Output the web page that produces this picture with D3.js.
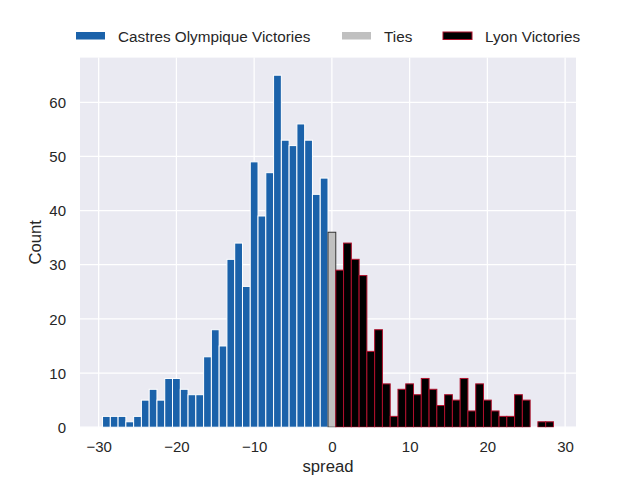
<!DOCTYPE html>
<html>
<head>
<meta charset="utf-8">
<script src="https://cdn.jsdelivr.net/npm/d3@7"></script>
<style>
  html, body { margin: 0; padding: 0; background: #ffffff; }
  svg { display: block; }
  text { font-family: "Liberation Sans", Arial, sans-serif; fill: #262626; }
</style>
</head>
<body>
<svg id="chart" width="640" height="480"></svg>
<script>
// ---- data ----
const castresSpreads = [-29,-28,-27,-26,-25,-24,-23,-22,-21,-20,-19,-18,-17,-16,-15,-14,-13,-12,-11,-10,-9,-8,-7,-6,-5,-4,-3,-2,-1];
const castresCounts  = [2,2,2,1,2,5,7,5,9,9,7,6,6,13,18,15,31,34,26,49,39,47,65,53,52,56,53,43,46];
const tieSpreads = [0];
const tieCounts  = [36];
const lyonSpreads = [1,2,3,4,5,6,7,8,9,10,11,12,13,14,15,16,17,18,19,20,21,22,23,24,25,26,27,28];
const lyonCounts  = [29,34,31,28,14,18,8,2,7,8,6,9,7,4,6,5,9,3,8,5,3,2,2,6,5,0,1,1];
const xTicks = [-30,-20,-10,0,10,20,30];
const yTicks = [0,10,20,30,40,50,60];
const seriesNames = ["Castres Olympique Victories", "Ties", "Lyon Victories"];

// ---- layout ----
const plotL = 80, plotR = 576, plotT = 57.6, plotB = 427.2;
const svg = d3.select("#chart");

const binW = 1;
const allSpreads = castresSpreads.concat(tieSpreads, lyonSpreads);
const allCounts = castresCounts.concat(tieCounts, lyonCounts);
const xmin = d3.min(allSpreads) - binW / 2, xmax = d3.max(allSpreads) + binW / 2;
const xm = (xmax - xmin) * 0.05;
const x = d3.scaleLinear().domain([xmin - xm, xmax + xm]).range([plotL, plotR]);
const ymax = d3.max(allCounts) * 1.05;
const y = d3.scaleLinear().domain([0, ymax]).range([plotB, plotT]);

// background
svg.append("rect").attr("x", plotL).attr("y", plotT)
  .attr("width", plotR - plotL).attr("height", plotB - plotT).attr("fill", "#eaeaf2");

// grid
const g = svg.append("g");
g.selectAll("line.gx").data(xTicks).join("line")
  .attr("x1", d => x(d)).attr("x2", d => x(d)).attr("y1", plotT).attr("y2", plotB)
  .attr("stroke", "#ffffff").attr("stroke-width", 1.25);
g.selectAll("line.gy").data(yTicks).join("line")
  .attr("y1", d => y(d)).attr("y2", d => y(d)).attr("x1", plotL).attr("x2", plotR)
  .attr("stroke", "#ffffff").attr("stroke-width", 1.25);

// clip
svg.append("clipPath").attr("id", "clip").append("rect")
  .attr("x", plotL).attr("y", plotT).attr("width", plotR - plotL).attr("height", plotB - plotT);

const series = [
  { s: castresSpreads, c: castresCounts, fill: "#1b62aa", stroke: "#ffffff" },
  { s: tieSpreads, c: tieCounts, fill: "#c0c0c0", stroke: "#333333" },
  { s: lyonSpreads, c: lyonCounts, fill: "#000000", stroke: "#b0102c" }
];
const barsG = svg.append("g").attr("clip-path", "url(#clip)");
series.forEach(sr => {
  const data = sr.s.map((v, i) => ({ v, n: sr.c[i] }));
  barsG.append("g").selectAll("rect").data(data).join("rect")
    .attr("x", d => x(d.v - binW / 2))
    .attr("width", d => x(d.v + binW / 2) - x(d.v - binW / 2))
    .attr("y", d => y(d.n))
    .attr("height", d => y(0) - y(d.n))
    .attr("fill", sr.fill)
    .attr("stroke", sr.stroke)
    .attr("stroke-width", 1);
});

// axes (labels only, seaborn darkgrid style)
const xAxis = d3.axisBottom(x).tickValues(xTicks).tickSize(0).tickPadding(0);
const xg = svg.append("g").attr("transform", `translate(0,${plotB})`).call(xAxis);
xg.select(".domain").remove();
xg.selectAll("text").attr("y", 24.5).attr("dy", null)
  .style("font-size", "15px").style("font-family", "'Liberation Sans', Arial, sans-serif").attr("fill", "#262626");

const yAxis = d3.axisLeft(y).tickValues(yTicks).tickSize(0).tickPadding(0);
const yg = svg.append("g").attr("transform", `translate(${plotL},0)`).call(yAxis);
yg.select(".domain").remove();
yg.selectAll("text").attr("x", -14).attr("dy", "0.35em")
  .style("font-size", "15px").style("font-family", "'Liberation Sans', Arial, sans-serif").attr("fill", "#262626");

// axis titles
svg.append("text").attr("x", (plotL + plotR) / 2).attr("y", 472)
  .attr("text-anchor", "middle").style("font-size", "16.67px").text("spread");
svg.append("text").attr("transform", `translate(41,${(plotT + plotB) / 2}) rotate(-90)`)
  .attr("text-anchor", "middle").style("font-size", "16.67px").text("Count");

// legend
const legendX = [76, 342, 443];
const leg = svg.append("g");
series.forEach((sr, i) => {
  leg.append("rect").attr("x", legendX[i]).attr("y", 32).attr("width", 29).attr("height", 7.5)
    .attr("fill", sr.fill)
    .attr("stroke", i === 2 ? sr.stroke : "none")
    .attr("stroke-width", 1);
  leg.append("text").attr("x", legendX[i] + 42).attr("y", 41.5)
    .style("font-size", "15.28px").text(seriesNames[i]);
});
</script>
</body>
</html>
